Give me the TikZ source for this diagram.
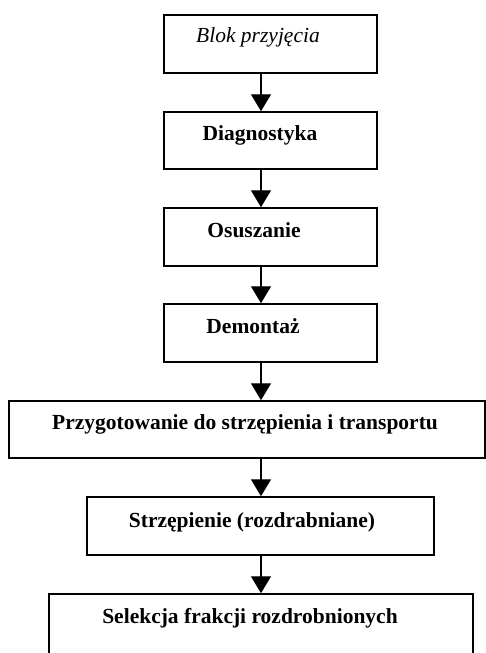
\documentclass[tikz,border=0pt]{standalone}
\usepackage{fontspec}
\setmainfont{Liberation Serif}
\usetikzlibrary{arrows.meta}
\begin{document}
\begin{tikzpicture}[x=1pt,y=-1pt,
  box/.style={draw, line width=1.5pt, inner sep=0pt, minimum height=58pt},
  lbl/.style={font=\fontsize{21.5}{25}\selectfont\bfseries, anchor=base, inner sep=0pt},
  arr/.style={line width=1.4pt, -{Triangle[width=20pt,length=17pt]}}]
\useasboundingbox (0,0) rectangle (486,653);
\clip (0,0) rectangle (486,653);
\coordinate (ax) at (261,0);
% boxes
\node[box, minimum width=213pt] (b1) at (270.5,44) {};
\node[box, minimum width=213pt, minimum height=57pt] (b2) at (270.5,140.5) {};
\node[box, minimum width=213pt] (b3) at (270.5,237) {};
\node[box, minimum width=213pt] (b4) at (270.5,333) {};
\node[box, minimum width=476pt, minimum height=57pt] (b5) at (247,429.5) {};
\node[box, minimum width=347pt] (b6) at (260.5,526) {};
\node[box, minimum width=424pt, minimum height=80pt] (b7) at (261,634) {};
% texts
\node[lbl, font=\fontsize{21.5}{25}\selectfont\itshape] (t1) at (258,42.5) {Blok przyjęcia};
\node[lbl] (t2) at (260,140.5) {Diagnostyka};
\node[lbl] (t3) at (254,237.5) {Osuszanie};
\node[lbl] (t4) at (253,333.5) {Demontaż};
\node[lbl] (t5) at (245,429) {Przygotowanie do strzępienia i transportu};
\node[lbl] (t6) at (252,527) {Strzępienie (rozdrabniane)};
\node[lbl] (t7) at (250,623) {Selekcja frakcji rozdrobnionych};
% arrows
\draw[arr] (b1.south -| ax) -- (b2.north -| ax);
\draw[arr] (b2.south -| ax) -- (b3.north -| ax);
\draw[arr] (b3.south -| ax) -- (b4.north -| ax);
\draw[arr] (b4.south -| ax) -- (b5.north -| ax);
\draw[arr] (b5.south -| ax) -- (b6.north -| ax);
\draw[arr] (b6.south -| ax) -- (b7.north -| ax);
\end{tikzpicture}
\end{document}
